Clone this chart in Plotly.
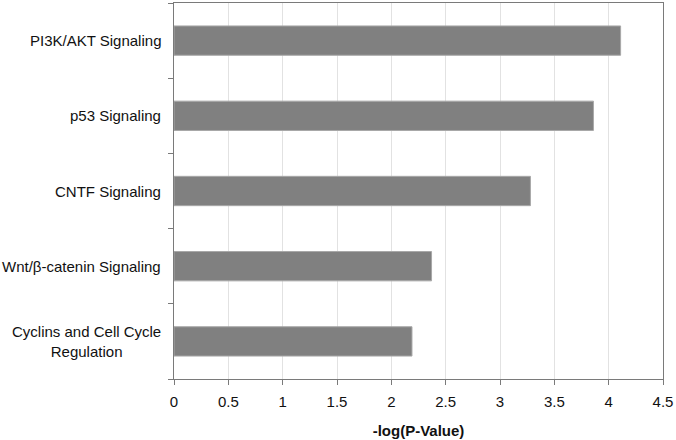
import plotly.graph_objects as go

categories = [
    "PI3K/AKT Signaling",
    "p53 Signaling",
    "CNTF Signaling",
    "Wnt/β-catenin Signaling",
    "Cyclins and Cell Cycle<br>Regulation",
]
values = [4.11, 3.86, 3.28, 2.37, 2.19]
x_tickvals = [0, 0.5, 1, 1.5, 2, 2.5, 3, 3.5, 4, 4.5]
x_ticktext = ["0", "0.5", "1", "1.5", "2", "2.5", "3", "3.5", "4", "4.5"]
x_title = "-log(P-Value)"

FONT = "Arial, Liberation Sans, sans-serif"

fig = go.Figure(
    go.Bar(
        x=values,
        y=categories,
        orientation="h",
        marker=dict(color="#808080", line=dict(color="#a8a8a8", width=1)),
        width=0.39,
    )
)

annotations = [
    dict(
        x=0, xref="paper", xanchor="right", xshift=-11,
        y=c, yref="y", yanchor="middle",
        text=c, showarrow=False, align="center",
        font=dict(family=FONT, size=15, color="#111111"),
    )
    for c in categories
]

fig.update_layout(
    width=676, height=440,
    margin=dict(l=174, r=13, t=3, b=61),
    paper_bgcolor="white", plot_bgcolor="white",
    showlegend=False,
    annotations=annotations,
    font=dict(family=FONT, size=15, color="#111111"),
)

fig.update_xaxes(
    range=[0, 4.5],
    tickvals=x_tickvals, ticktext=x_ticktext,
    showgrid=True, gridcolor="#e2e2e2", gridwidth=1,
    showline=True, linecolor="#7a7a7a", linewidth=1, mirror=True,
    ticks="outside", ticklen=5, tickcolor="#7a7a7a",
    ticklabelstandoff=4,
    zeroline=False,
    tickfont=dict(family=FONT, size=15, color="#111111"),
    title=dict(text="<b>" + x_title + "</b>", font=dict(family=FONT, size=15, color="#111111"), standoff=16),
)

fig.update_yaxes(
    type="category",
    categoryorder="array", categoryarray=categories[::-1],
    tickson="boundaries",
    showticklabels=False,
    showgrid=False,
    showline=True, linecolor="#7a7a7a", linewidth=1, mirror=True,
    ticks="outside", ticklen=5, tickcolor="#7a7a7a",
    range=[-0.5, 4.5],
)

fig.write_html(
    "out.html",
    config={"displayModeBar": False},
    post_script="document.body.style.margin='0';document.body.style.padding='0';",
)
